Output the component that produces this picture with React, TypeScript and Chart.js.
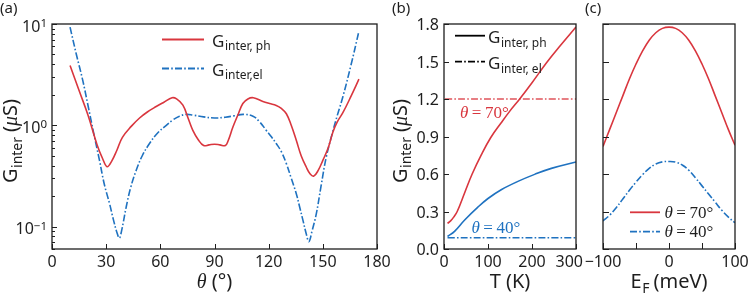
import React, { useEffect, useRef } from "react";
import { Chart, registerables } from "chart.js";

Chart.register(...registerables);

const W = 748;
const H = 294;

// ---------- Panel (a): G_inter vs theta (log scale) ----------
const thetaPh = [10, 15, 20, 25, 28, 30.5, 33, 36, 39, 44, 48.5, 53, 57.7, 62, 66.5, 69, 72.5, 75.5, 78, 81, 84, 87, 90, 93, 96, 97.5, 100.2, 103, 105.7, 108.5, 111.5, 116.8, 120.5, 124.2, 127, 129.8, 132.5, 135.3, 138, 140.8, 143, 145, 147.5, 150, 153, 155.6, 158, 161.1, 165.7, 170];
const gPh = [3.9, 2.2, 1.25, 0.64, 0.47, 0.39, 0.44, 0.57, 0.76, 0.98, 1.18, 1.36, 1.53, 1.69, 1.87, 1.82, 1.58, 1.16, 0.89, 0.72, 0.63, 0.64, 0.65, 0.64, 0.63, 0.7, 0.96, 1.27, 1.64, 1.82, 1.87, 1.72, 1.64, 1.57, 1.47, 1.3, 1.0, 0.71, 0.5, 0.387, 0.33, 0.315, 0.36, 0.45, 0.6, 0.86, 1.08, 1.33, 1.95, 2.85];
const thetaEl = [10, 13.5, 17, 20, 23, 26.3, 29, 31.9, 34, 36, 37.3, 38.5, 41.1, 43.5, 46.6, 50, 54, 58.5, 63.3, 67, 70.6, 74.3, 78, 84, 90, 96, 101, 106, 111.3, 115, 118.7, 121.5, 124.2, 127, 129.8, 132.5, 135.3, 137.2, 139, 140.8, 142.3, 144, 146.4, 149, 151.9, 155.6, 158, 161.1, 165.7, 170];
const gEl = [9.3, 5.0, 2.79, 1.55, 0.85, 0.45, 0.26, 0.168, 0.117, 0.087, 0.077, 0.09, 0.156, 0.24, 0.358, 0.5, 0.66, 0.84, 1.0, 1.13, 1.23, 1.28, 1.26, 1.21, 1.18, 1.2, 1.24, 1.28, 1.23, 1.08, 0.89, 0.77, 0.66, 0.55, 0.418, 0.3, 0.211, 0.155, 0.115, 0.085, 0.071, 0.09, 0.134, 0.25, 0.486, 0.88, 1.25, 1.91, 4.0, 8.5];
const thetaTicks = [0, 30, 60, 90, 120, 150, 180];
const logMajor = [0.1, 1, 10];
const logMajorExp = ["\u22121", "0", "1"];
const logMinor = [0.06, 0.07, 0.08, 0.09, 0.2, 0.3, 0.4, 0.5, 0.6, 0.7, 0.8, 0.9, 2, 3, 4, 5, 6, 7, 8, 9];

// ---------- Panel (b): G_inter vs T ----------
const tempPh70 = [8, 15, 22, 30, 47, 64, 85, 106, 130, 150, 172, 200, 233, 265, 300];
const gPh70 = [0.205, 0.225, 0.255, 0.3, 0.45, 0.6, 0.755, 0.89, 1.01, 1.105, 1.2, 1.33, 1.49, 1.63, 1.776];
const tempPh40 = [8, 24, 47, 77, 100, 130, 168, 206, 244, 300];
const gPh40 = [0.1, 0.141, 0.232, 0.335, 0.404, 0.474, 0.541, 0.597, 0.645, 0.696];
const tempEl70 = [2, 300];
const gEl70 = [1.2, 1.2];
const tempEl40 = [8, 300];
const gEl40 = [0.09, 0.09];
const gTicks = [0, 0.3, 0.6, 0.9, 1.2, 1.5, 1.8];
const gTickLabels = ["0.0", "0.3", "0.6", "0.9", "1.2", "1.5", "1.8"];
const tTicks = [0, 100, 200, 300];
const tTickLabels = ["0", "100", "200", "300"];

// ---------- Panel (c): G_inter vs E_F ----------
const efGrid = [-100, -90, -80, -70, -60, -50, -40, -30, -20, -10, 0, 10, 20, 30, 40, 50, 60, 70, 80, 90, 100];
const gRed70 = [0.82, 0.955, 1.09, 1.225, 1.36, 1.48, 1.585, 1.67, 1.73, 1.765, 1.775, 1.765, 1.73, 1.67, 1.585, 1.48, 1.36, 1.225, 1.09, 0.955, 0.83];
const gBlue40 = [0.225, 0.27, 0.33, 0.4, 0.47, 0.535, 0.595, 0.645, 0.68, 0.697, 0.7, 0.695, 0.672, 0.63, 0.57, 0.505, 0.44, 0.375, 0.31, 0.255, 0.21];
const efTicks = [-100, -50, 0, 50, 100];
const efTickLabels = ["\u2212100", "", "0", "", "100"];

// ---------- styles ----------
const RED = "#d9363e";
const BLUE = "#1f72c0";
const INK = "#1e1e1e";
const SANS = "'Noto Sans', 'Open Sans', 'DejaVu Sans', sans-serif";
const SERIF = "'Liberation Serif', 'DejaVu Serif', serif";
const DASHDOT = [7, 2.2, 1.6, 2.2];

type Part = { t: string; f: string; dy?: number; dx?: number };

function richWidth(ctx: CanvasRenderingContext2D, parts: Part[]) {
  let w = 0;
  for (const p of parts) {
    ctx.font = p.f;
    w += ctx.measureText(p.t).width + (p.dx || 0);
  }
  return w;
}

function drawRich(ctx: CanvasRenderingContext2D, x: number, y: number, parts: Part[], align: string, color: string) {
  const w = richWidth(ctx, parts);
  let cx = align === "center" ? x - w / 2 : align === "right" ? x - w : x;
  ctx.textAlign = "left";
  ctx.textBaseline = "alphabetic";
  ctx.fillStyle = color;
  for (const p of parts) {
    ctx.font = p.f;
    cx += p.dx || 0;
    ctx.fillText(p.t, cx, y + (p.dy || 0));
    cx += ctx.measureText(p.t).width;
  }
}

function frame(ctx: CanvasRenderingContext2D, chart: any) {
  const ca = chart.chartArea;
  ctx.strokeStyle = INK;
  ctx.lineWidth = 1.3;
  ctx.setLineDash([]);
  ctx.strokeRect(ca.left, ca.top, ca.right - ca.left, ca.bottom - ca.top);
}

function yTickMarks(ctx: CanvasRenderingContext2D, chart: any, vals: number[], len: number) {
  const ca = chart.chartArea;
  const y = chart.scales.y;
  ctx.strokeStyle = INK;
  ctx.lineWidth = 1;
  ctx.beginPath();
  for (const v of vals) {
    const p = Math.round(y.getPixelForValue(v)) + 0.5;
    ctx.moveTo(ca.left, p);
    ctx.lineTo(ca.left + len, p);
  }
  ctx.stroke();
}

function xTickMarks(ctx: CanvasRenderingContext2D, chart: any, vals: number[], len: number) {
  const ca = chart.chartArea;
  const x = chart.scales.x;
  ctx.strokeStyle = INK;
  ctx.lineWidth = 1;
  ctx.beginPath();
  for (const v of vals) {
    const p = Math.round(x.getPixelForValue(v)) + 0.5;
    ctx.moveTo(p, ca.bottom);
    ctx.lineTo(p, ca.bottom - len);
  }
  ctx.stroke();
}

function xLabels(ctx: CanvasRenderingContext2D, chart: any, vals: number[], labels: string[], lastRight?: boolean) {
  const ca = chart.chartArea;
  const x = chart.scales.x;
  ctx.font = `16px ${SANS}`;
  ctx.fillStyle = INK;
  ctx.textBaseline = "alphabetic";
  vals.forEach((v, i) => {
    if (!labels[i]) return;
    const p = x.getPixelForValue(v);
    if (lastRight && i === vals.length - 1) {
      ctx.textAlign = "right";
      ctx.fillText(labels[i], p + 7, ca.bottom + 17.5);
    } else {
      ctx.textAlign = "center";
      ctx.fillText(labels[i], p, ca.bottom + 17.5);
    }
  });
}

function yLabels(ctx: CanvasRenderingContext2D, chart: any, vals: number[], labels: string[]) {
  const ca = chart.chartArea;
  const y = chart.scales.y;
  ctx.font = `16px ${SANS}`;
  ctx.fillStyle = INK;
  ctx.textBaseline = "alphabetic";
  ctx.textAlign = "right";
  vals.forEach((v, i) => {
    ctx.fillText(labels[i], ca.left - 5, y.getPixelForValue(v) + 6);
  });
}

function yTitle(ctx: CanvasRenderingContext2D, bx: number, cy: number) {
  ctx.save();
  ctx.translate(bx, cy);
  ctx.rotate(-Math.PI / 2);
  drawRich(ctx, 0, 0, [
    { t: "G", f: `20px ${SANS}` },
    { t: "inter", f: `14px ${SANS}`, dy: 4.5, dx: 0.5 },
    { t: "(", f: `20px ${SANS}`, dx: 5 },
    { t: "\u03bc", f: `italic 20px ${SERIF}` },
    { t: "S)", f: `20px ${SANS}` },
  ], "center", INK);
  ctx.restore();
}

function legendLine(ctx: CanvasRenderingContext2D, x0: number, x1: number, y: number, color: string, dash: number[]) {
  ctx.strokeStyle = color;
  ctx.lineWidth = 1.8;
  ctx.setLineDash(dash);
  ctx.beginPath();
  ctx.moveTo(x0, y);
  ctx.lineTo(x1, y);
  ctx.stroke();
  ctx.setLineDash([]);
}

function gSub(sub: string): Part[] {
  return [
    { t: "G", f: `17px ${SANS}` },
    { t: sub, f: `12px ${SANS}`, dy: 3.5, dx: 0.5 },
  ];
}

function thetaEq(val: string, size: number): Part[] {
  return [
    { t: "\u03b8", f: `italic ${size}px ${SERIF}` },
    { t: "=", f: `${size}px ${SERIF}`, dx: 3.5 },
    { t: `${val}\u00b0`, f: `${size}px ${SERIF}`, dx: 3.5 },
  ];
}

function panelLabel(ctx: CanvasRenderingContext2D, text: string, x: number) {
  ctx.font = `15px ${SANS}`;
  ctx.fillStyle = INK;
  ctx.textAlign = "left";
  ctx.textBaseline = "alphabetic";
  ctx.fillText(text, x, 12.5);
}

function makePlugin(fn: (ctx: CanvasRenderingContext2D, chart: any) => void) {
  return {
    id: "panelDecor",
    afterDraw(chart: any) {
      const ctx = chart.ctx as CanvasRenderingContext2D;
      ctx.save();
      fn(ctx, chart);
      ctx.restore();
    },
  };
}

function hiddenScale(axis: "x" | "y", extra: any) {
  return {
    ...extra,
    bounds: "data",
    grid: { display: false, drawTicks: false },
    border: { display: false },
    ticks: { display: false },
    afterFit: (s: any) => {
      if (axis === "x") s.height = 0;
      else s.width = 0;
    },
  };
}

function baseOptions(area: { l: number; t: number; r: number; b: number }, xs: any, ys: any) {
  return {
    responsive: false,
    animation: false,
    events: [],
    layout: { padding: { left: area.l, top: area.t, right: W - area.r, bottom: H - area.b } },
    plugins: { legend: { display: false }, tooltip: { enabled: false } },
    elements: { point: { radius: 0 } },
    scales: { x: hiddenScale("x", xs), y: hiddenScale("y", ys) },
  };
}

function series(xs: number[], ys: number[], color: string, dash: number[]) {
  return {
    data: xs.map((x, i) => ({ x, y: ys[i] })),
    borderColor: color,
    borderWidth: 1.6,
    borderDash: dash,
    pointRadius: 0,
    fill: false,
    tension: 0.4,
    cubicInterpolationMode: "default",
  };
}

function cfgA(): any {
  return {
    type: "line",
    data: {
      datasets: [
        series(thetaPh, gPh, RED, []),
        series(thetaEl, gEl, BLUE, DASHDOT),
      ],
    },
    options: baseOptions({ l: 52, t: 24, r: 377, b: 249 }, { type: "linear", min: 0, max: 180 }, { type: "logarithmic", min: 0.06, max: 10 }),
    plugins: [
      makePlugin((ctx, chart) => {
        frame(ctx, chart);
        yTickMarks(ctx, chart, logMajor, 5);
        yTickMarks(ctx, chart, logMinor, 3);
        xTickMarks(ctx, chart, thetaTicks, 5);
        xLabels(ctx, chart, thetaTicks, thetaTicks.map(String));
        const ca = chart.chartArea;
        logMajor.forEach((v, i) => {
          const p = chart.scales.y.getPixelForValue(v);
          drawRich(ctx, ca.left - 5, p + 7.5, [
            { t: "10", f: `16px ${SANS}` },
            { t: logMajorExp[i], f: `11.5px ${SANS}`, dy: -4.5 },
          ], "right", INK);
        });
        drawRich(ctx, (ca.left + ca.right) / 2, 288, [
          { t: "\u03b8", f: `italic 20px ${SERIF}` },
          { t: "(\u00b0)", f: `20px ${SANS}`, dx: 5 },
        ], "center", INK);
        yTitle(ctx, 17, 141);
        legendLine(ctx, 162, 204, 39.5, RED, []);
        legendLine(ctx, 162, 204, 68.5, BLUE, DASHDOT);
        drawRich(ctx, 212, 46.7, gSub("inter, ph"), "left", INK);
        drawRich(ctx, 212, 75.7, gSub("inter,el"), "left", INK);
        panelLabel(ctx, "(a)", 0);
      }),
    ],
  };
}

function cfgB(): any {
  return {
    type: "line",
    data: {
      datasets: [
        series(tempPh70, gPh70, RED, []),
        series(tempPh40, gPh40, BLUE, []),
        { ...series(tempEl70, gEl70, RED, DASHDOT), borderColor: "rgba(217,54,62,0.85)" },
        series(tempEl40, gEl40, BLUE, DASHDOT),
      ],
    },
    options: baseOptions({ l: 444, t: 24, r: 576, b: 249 }, { type: "linear", min: 0, max: 300 }, { type: "linear", min: 0, max: 1.8 }),
    plugins: [
      makePlugin((ctx, chart) => {
        frame(ctx, chart);
        yTickMarks(ctx, chart, gTicks, 5);
        xTickMarks(ctx, chart, tTicks, 5);
        yLabels(ctx, chart, gTicks, gTickLabels);
        xLabels(ctx, chart, tTicks, tTickLabels, true);
        const ca = chart.chartArea;
        drawRich(ctx, (ca.left + ca.right) / 2, 288, [
          { t: "T (K)", f: `20px ${SANS}` },
        ], "center", INK);
        yTitle(ctx, 406.5, 141);
        legendLine(ctx, 455, 485, 35.7, "#000", []);
        legendLine(ctx, 455, 485, 61.7, "#000", DASHDOT);
        drawRich(ctx, 488, 43.2, gSub("inter, ph"), "left", INK);
        drawRich(ctx, 488, 69.2, gSub("inter, el"), "left", INK);
        drawRich(ctx, 460, 118, thetaEq("70", 17), "left", RED);
        drawRich(ctx, 471.5, 232.5, thetaEq("40", 17), "left", BLUE);
        panelLabel(ctx, "(b)", 392);
      }),
    ],
  };
}

function cfgC(): any {
  return {
    type: "line",
    data: {
      datasets: [
        series(efGrid, gRed70, RED, []),
        series(efGrid, gBlue40, BLUE, DASHDOT),
      ],
    },
    options: baseOptions({ l: 603, t: 24, r: 735, b: 249 }, { type: "linear", min: -100, max: 100 }, { type: "linear", min: 0, max: 1.8 }),
    plugins: [
      makePlugin((ctx, chart) => {
        frame(ctx, chart);
        yTickMarks(ctx, chart, gTicks, 6);
        xTickMarks(ctx, chart, efTicks, 6);
        xLabels(ctx, chart, efTicks, efTickLabels);
        const ca = chart.chartArea;
        drawRich(ctx, (ca.left + ca.right) / 2, 288, [
          { t: "E", f: `20px ${SANS}` },
          { t: "F", f: `14px ${SANS}`, dy: 5, dx: 0.5 },
          { t: "(meV)", f: `20px ${SANS}`, dx: 4 },
        ], "center", INK);
        legendLine(ctx, 630, 660, 212.3, RED, []);
        legendLine(ctx, 630, 660, 231.7, BLUE, DASHDOT);
        drawRich(ctx, 664.5, 218, thetaEq("70", 17), "left", INK);
        drawRich(ctx, 664.5, 237.4, thetaEq("40", 17), "left", INK);
        panelLabel(ctx, "(c)", 585);
      }),
    ],
  };
}

export default function App() {
  const ra = useRef<HTMLCanvasElement>(null);
  const rb = useRef<HTMLCanvasElement>(null);
  const rc = useRef<HTMLCanvasElement>(null);

  useEffect(() => {
    const charts = [
      new Chart(ra.current as HTMLCanvasElement, cfgA()),
      new Chart(rb.current as HTMLCanvasElement, cfgB()),
      new Chart(rc.current as HTMLCanvasElement, cfgC()),
    ];
    return () => charts.forEach((c) => c.destroy());
  }, []);

  const st: React.CSSProperties = { position: "absolute", left: 0, top: 0, width: W, height: H };
  return (
    <div style={{ position: "fixed", left: 0, top: 0, width: W, height: H, background: "#fff", overflow: "hidden" }}>
      <canvas ref={ra} width={W} height={H} style={st} />
      <canvas ref={rb} width={W} height={H} style={st} />
      <canvas ref={rc} width={W} height={H} style={st} />
    </div>
  );
}
